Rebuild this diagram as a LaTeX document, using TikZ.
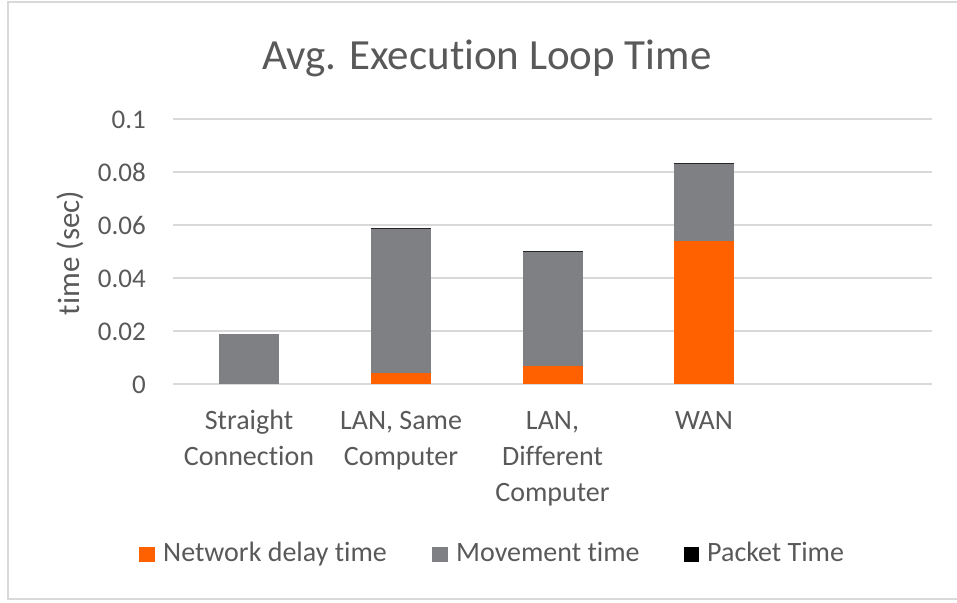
\documentclass[tikz,border=0pt]{standalone}
\usepackage{fontspec}
\setmainfont{Carlito}[RawFeature={-liga;-clig;-dlig;-calt;-rlig}]
\definecolor{txt}{HTML}{595959}
\definecolor{gridc}{HTML}{D9D9D9}
\definecolor{netc}{HTML}{FF6100}
\definecolor{movc}{HTML}{7E8083}
\definecolor{pktc}{HTML}{000000}
\begin{document}
\begin{tikzpicture}[x=1pt,y=-1pt,
  gridln/.style={draw=gridc,line width=1.3pt},
  frameln/.style={draw=gridc,line width=1.6pt},
  ticklbl/.style={anchor=base east,inner sep=0,text=txt,font=\fontsize{27}{32}\selectfont},
  catlbl/.style={anchor=base,inner sep=0,text=txt,font=\fontsize{28}{34}\selectfont},
  legtxt/.style={anchor=base west,inner sep=0,text=txt,font=\fontsize{28}{34}\selectfont},
  legsq/.style={inner sep=0,minimum size=15.5pt,draw=none},
  barnet/.style={fill=netc},
  barmov/.style={fill=movc},
  barpkt/.style={fill=pktc!70!movc}]
\useasboundingbox (0,0) rectangle (957,602);
% frame
\draw[frameln] (960,2) -- (8,2) -- (8,599) -- (960,599);
% grid
\foreach \g in {119,172,225,278,331,384} \draw[gridln] (173,\g) -- (932,\g);
% tick labels
\node[ticklbl] (t10) at (146,128) {0.1};
\node[ticklbl] (t08) at (146,181) {0.08};
\node[ticklbl] (t06) at (146,234) {0.06};
\node[ticklbl] (t04) at (146,287) {0.04};
\node[ticklbl] (t02) at (146,340) {0.02};
\node[ticklbl] (t00) at (146,393) {0};
% bars
\fill[barmov] (219,334) rectangle (279,384);
\fill[barnet] (370.7,372.7) rectangle (430.7,384);
\fill[barmov] (370.7,228) rectangle (430.7,372.7);
\fill[barpkt] (370.7,228) rectangle (430.7,229);
\fill[barnet] (522.5,365.7) rectangle (582.5,384);
\fill[barmov] (522.5,250.5) rectangle (582.5,365.7);
\fill[barpkt] (522.5,250.5) rectangle (582.5,251.5);
\fill[barnet] (674,241) rectangle (734,384);
\fill[barmov] (674,163) rectangle (734,241);
\fill[barpkt] (674,163) rectangle (734,164);
% title
\node[anchor=base,inner sep=0,text=txt,font=\fontsize{43}{52}\selectfont] (title) at (487,69.5) {Avg. Execut\kern0pt ion Loop Time};
% y label
\node[rotate=90,inner sep=0,text=txt,font=\fontsize{31}{37}\selectfont] (ylab) at (70,253) {time (sec)};
% category labels
\node[catlbl] (c1a) at (249,429) {Straight};
\node[catlbl] (c1b) at (249,465) {Connect\kern0pt ion};
\node[catlbl] (c2a) at (401,429) {LAN, Same};
\node[catlbl] (c2b) at (401,465) {Computer};
\node[catlbl] (c3a) at (552.5,429) {LAN,};
\node[catlbl] (c3b) at (552.5,465) {Different};
\node[catlbl] (c3c) at (552.5,501) {Computer};
\node[catlbl] (c4a) at (704,429) {WAN};
% legend
\node[legsq,fill=netc] (sq1) at (147,554.5) {};
\node[legtxt] (l1) at (163,561.7) {Network delay time};
\node[legsq,fill=movc] (sq2) at (440,554.5) {};
\node[legtxt] (l2) at (456,561.7) {Movement time};
\node[legsq,fill=pktc] (sq3) at (691.5,554.5) {};
\node[legtxt] (l3) at (707,561.7) {Packet Time};
\end{tikzpicture}
\end{document}
